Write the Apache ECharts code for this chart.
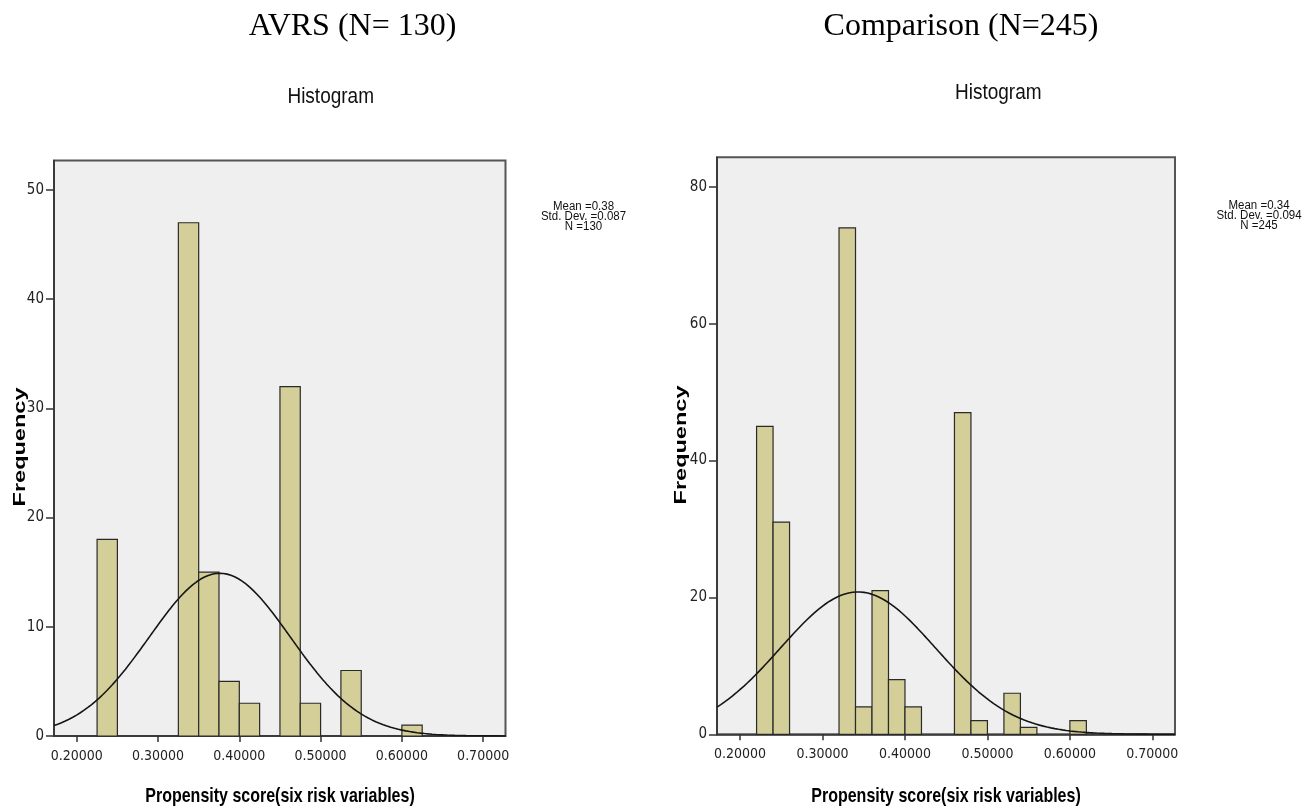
<!DOCTYPE html>
<html><head><meta charset="utf-8">
<script src="https://cdn.jsdelivr.net/npm/echarts@6/dist/echarts.min.js"></script>
<style>html,body{margin:0;padding:0;background:#fff}#c{width:1303px;height:812px}</style>
</head><body><div id="c"></div>
<script>
// ---- data ----
const leftBinStarts = [0.225, 0.325, 0.35, 0.375, 0.4, 0.45, 0.475, 0.525, 0.6];
const leftCounts    = [18, 47, 15, 5, 3, 32, 3, 6, 1];
const leftBinWidth  = 0.025;
const leftCurve     = [0.376, 0.087, 130];   // mean (peak position), sd, N
const rightBinStarts = [0.22, 0.24, 0.32, 0.34, 0.36, 0.38, 0.40, 0.46, 0.48, 0.52, 0.54, 0.60];
const rightCounts    = [45, 31, 74, 4, 21, 8, 4, 47, 2, 6, 1, 2];
const rightBinWidth  = 0.02;
const rightCurve     = [0.343, 0.094, 245];
const xTicks      = [0.2, 0.3, 0.4, 0.5, 0.6, 0.7];
const leftYTicks  = [0, 10, 20, 30, 40, 50];
const rightYTicks = [0, 20, 40, 60, 80];
const panelTitles = ['AVRS (N= 130)', 'Comparison (N=245)'];
const statLinesLeft  = ['Mean =0.38', 'Std. Dev. =0.087', 'N =130'];
const statLinesRight = ['Mean =0.34', 'Std. Dev. =0.094', 'N =245'];
const subTitle = 'Histogram';
const xName = 'Propensity score(six risk variables)';
const yName = 'Frequency';

// ---- styling / layout ----
const NARROW = "'Liberation Sans Narrow','Arial Narrow','DejaVu Sans Condensed','Liberation Sans',sans-serif";
const SANS = "'Liberation Sans',Arial,sans-serif";
const SERIF = "'Liberation Serif','Times New Roman',serif";
const X_MIN = 0.172, X_MAX = 0.7275;
const panels = [
  {grid:{left:54, top:160.5, width:451.5, height:575.5}, ymax:52.7, yt:leftYTicks,
   starts:leftBinStarts, counts:leftCounts, w:leftBinWidth, curve:leftCurve},
  {grid:{left:717, top:157.3, width:458, height:577}, ymax:84.3, yt:rightYTicks,
   starts:rightBinStarts, counts:rightCounts, w:rightBinWidth, curve:rightCurve}
];

function normalCurve(c, w) {
  const [m, sd, n] = c, pts = [];
  for (let i = 0; i <= 240; i++) {
    const x = X_MIN + (X_MAX - X_MIN) * i / 240;
    const z = (x - m) / sd;
    pts.push([x, n * w * Math.exp(-0.5 * z * z) / (sd * Math.sqrt(2 * Math.PI))]);
  }
  return pts;
}

const grids = [], xAxes = [], yAxes = [], series = [];
panels.forEach((p, i) => {
  grids.push(Object.assign({show:true, backgroundColor:'#efefef', borderColor:'#555', borderWidth:2}, p.grid));
  xAxes.push({type:'value', gridIndex:i, min:X_MIN, max:X_MAX,
    axisLine:{show:true, onZero:false, lineStyle:{color:'#333', width:1.5}},
    axisTick:{show:true, length:6, customValues:xTicks, lineStyle:{color:'#333', width:1.5}},
    axisLabel:{customValues:xTicks, formatter:v => v.toFixed(5), fontFamily:NARROW, fontSize:14, color:'#222', margin:13},
    splitLine:{show:false}});
  yAxes.push({type:'value', gridIndex:i, min:0, max:p.ymax,
    axisLine:{show:true, onZero:false, lineStyle:{color:'#333', width:1.5}},
    axisTick:{show:true, length:8, customValues:p.yt, lineStyle:{color:'#333', width:1.5}},
    axisLabel:{customValues:p.yt, fontFamily:NARROW, fontSize:15, color:'#222', margin:10},
    splitLine:{show:false}});
  series.push({type:'custom', xAxisIndex:i, yAxisIndex:i,
    data:p.starts.map((s, k) => [s, s + p.w, p.counts[k]]),
    encode:{x:[0, 1], y:2},
    renderItem:(params, api) => {
      const a = api.coord([api.value(0), 0]);
      const b = api.coord([api.value(1), api.value(2)]);
      return {type:'rect', shape:{x:a[0], y:b[1], width:b[0] - a[0], height:a[1] - b[1]},
        style:{fill:'#d4cf98', stroke:'#2a2a2a', lineWidth:1.2}};
    }});
  series.push({type:'line', xAxisIndex:i, yAxisIndex:i, data:normalCurve(p.curve, p.w),
    showSymbol:false, silent:true, z:5, lineStyle:{color:'#151515', width:1.6}});
});

function txt(x, y, text, font, extra, fill) {
  return Object.assign({type:'text', x:x, y:y, silent:true,
    style:{text:text, font:font, fill:fill || '#000', align:'center', verticalAlign:'middle'}}, extra || {});
}
const graphic = [
  txt(352.5, 27, panelTitles[0], '32px ' + SERIF),
  txt(961, 26.5, panelTitles[1], '32px ' + SERIF),
  txt(330.7, 97, subTitle, '19px ' + SANS, {scaleY:1.12}, '#111'),
  txt(998.3, 93.5, subTitle, '19px ' + SANS, {scaleY:1.12}, '#111'),
  txt(20.5, 447, yName, 'bold 16px ' + SANS, {rotation:Math.PI / 2, scaleX:1.47}),
  txt(682, 445, yName, 'bold 16px ' + SANS, {rotation:Math.PI / 2, scaleX:1.47}),
  txt(280, 796, xName, 'bold 16px ' + SANS, {scaleY:1.3}),
  txt(946, 796, xName, 'bold 16px ' + SANS, {scaleY:1.3})
];
statLinesLeft.forEach((s, k) => graphic.push(txt(583.5, 206.5 + k * 10, s, '11.5px ' + SANS, {scaleY:1.08}, '#111')));
statLinesRight.forEach((s, k) => graphic.push(txt(1259, 206 + k * 10, s, '11.5px ' + SANS, {scaleY:1.08}, '#111')));

const chart = echarts.init(document.getElementById('c'), null, {renderer:'canvas'});
chart.setOption({animation:false, backgroundColor:'#fff', grid:grids, xAxis:xAxes, yAxis:yAxes, series:series, graphic:graphic});
</script></body></html>
